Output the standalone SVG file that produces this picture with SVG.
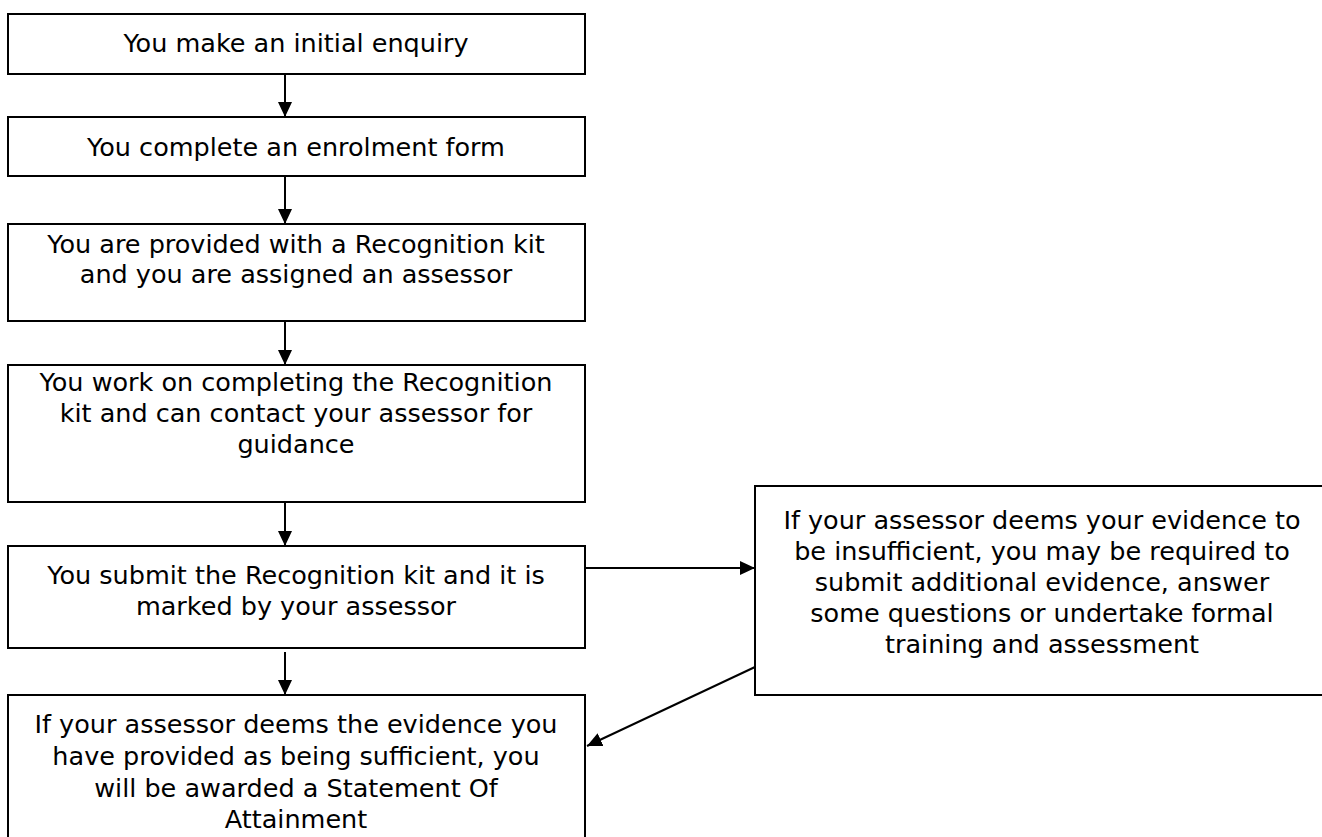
<svg xmlns="http://www.w3.org/2000/svg" width="1322" height="837" viewBox="0 0 1322 837">
<style>
.box{fill:#fff;stroke:#000;stroke-width:2}
.t{font-family:"DejaVu Sans",sans-serif;font-size:25.5px;fill:#000;text-anchor:middle}
.c{stroke:#000;stroke-width:2;fill:none}
</style>
<defs>
<marker id="ah" markerWidth="15" markerHeight="14" refX="15" refY="7" orient="auto" markerUnits="userSpaceOnUse" viewBox="0 0 15 14">
<path d="M0,0 L15,7 L0,14 Z" fill="#000"/>
</marker>
</defs>
<rect width="1322" height="837" fill="#fff"/>
<g id="connectors">
<line class="c" x1="285" y1="74" x2="285" y2="117" marker-end="url(#ah)"/>
<line class="c" x1="285" y1="176" x2="285" y2="224" marker-end="url(#ah)"/>
<line class="c" x1="285" y1="321" x2="285" y2="365" marker-end="url(#ah)"/>
<line class="c" x1="285" y1="502" x2="285" y2="546" marker-end="url(#ah)"/>
<line class="c" x1="285" y1="652" x2="285" y2="695" marker-end="url(#ah)"/>
<line class="c" x1="585" y1="568" x2="755" y2="568" marker-end="url(#ah)"/>
<line class="c" x1="755" y1="667" x2="587" y2="746" marker-end="url(#ah)"/>
</g>
<g id="n1"><rect class="box" x="8" y="14" width="577" height="60"/>
<text class="t" x="296" y="52">You make an initial enquiry</text></g>
<g id="n2"><rect class="box" x="8" y="117" width="577" height="59"/>
<text class="t" x="296" y="156">You complete an enrolment form</text></g>
<g id="n3"><rect class="box" x="8" y="224" width="577" height="97"/>
<text class="t" x="296" y="253">You are provided with a Recognition kit</text>
<text class="t" x="296" y="283">and you are assigned an assessor</text></g>
<g id="n4"><rect class="box" x="8" y="365" width="577" height="137"/>
<text class="t" x="296" y="391">You work on completing the Recognition</text>
<text class="t" x="296" y="422">kit and can contact your assessor for</text>
<text class="t" x="296" y="453">guidance</text></g>
<g id="n5"><rect class="box" x="8" y="546" width="577" height="102"/>
<text class="t" x="296" y="584">You submit the Recognition kit and it is</text>
<text class="t" x="296" y="615">marked by your assessor</text></g>
<g id="n6"><rect class="box" x="8" y="695" width="577" height="150"/>
<text class="t" x="296" y="733">If your assessor deems the evidence you</text>
<text class="t" x="296" y="765">have provided as being sufficient, you</text>
<text class="t" x="296" y="797">will be awarded a Statement Of</text>
<text class="t" x="296" y="828">Attainment</text></g>
<g id="n7"><rect class="box" x="755" y="486" width="575" height="209"/>
<text class="t" x="1042" y="529">If your assessor deems your evidence to</text>
<text class="t" x="1042" y="560">be insufficient, you may be required to</text>
<text class="t" x="1042" y="591">submit additional evidence, answer</text>
<text class="t" x="1042" y="622">some questions or undertake formal</text>
<text class="t" x="1042" y="653">training and assessment</text></g>
</svg>
